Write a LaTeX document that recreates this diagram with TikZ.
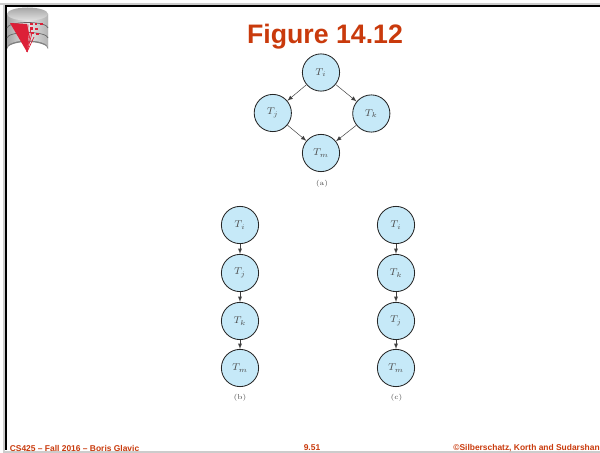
\documentclass[tikz,border=0pt]{standalone}
\usepackage{fontspec}
\setsansfont{Liberation Sans}
\definecolor{titlered}{HTML}{C93A0C}
\definecolor{txnblue}{HTML}{C6E9F8}
\definecolor{logored}{HTML}{DC2038}
\tikzset{
    txn/.style={circle, draw=black!85, fill=txnblue, line width=0.6pt, minimum size=0.93cm, inner sep=0pt, font=\scriptsize\itshape, text=black!70},
    sub/.style={font=\tiny, text=black!70},
    foot/.style={font=\sffamily\bfseries\fontsize{6}{7}\selectfont, text=titlered},
    prec/.style={->, >=latex, black!75, line width=0.35pt}
}
\begin{document}
\begin{tikzpicture}[x=0.025cm, y=-0.025cm]
    \useasboundingbox (0, 0) rectangle (600, 453);
    % slide frame
    \fill[black!20] (4, 451) rectangle (600, 453);
    \fill[black!20] (0, 3.5) rectangle (600, 5);
    \fill[black!20] (2.5, 3.5) rectangle (4.5, 453);
    \fill[black] (4.5, 5) rectangle (600, 7);
    \fill[black] (4.5, 5) rectangle (7, 450);
    % logo
    \fill[black!50] (7, 49) arc[start angle=180, end angle=360, x radius=20.5, y radius=7] -- (48, 14) -- (7, 14) -- cycle;
    \shade[left color=black!35, right color=black!30, middle color=black!10] (7, 14) -- (48, 14) -- (48, 47.5) arc[start angle=360, end angle=180, x radius=20.5, y radius=7] -- cycle;
    \shade[top color=black!35, bottom color=black!12] (27.5, 14) ellipse[x radius=20.5, y radius=6.5];
    \draw[black!60, line width=0.5pt] (7, 28) arc[start angle=180, end angle=360, x radius=20.5, y radius=5.5];
    \draw[black!60, line width=0.5pt] (7, 38) arc[start angle=180, end angle=360, x radius=20.5, y radius=5.5];
    \fill[logored] (10, 23) -- (27, 24) -- (29, 33) -- (27, 52) -- cycle;
    \foreach \x/\y in {28/24.5, 31/28, 32/33, 34/37} {
        \draw[logored, line width=0.5pt] (27, 52) -- (\x, \y);
    }
    \foreach \x/\y in {30/23, 34.5/23, 40/23, 30/27.5, 35/28, 31/32, 36/33} {
        \fill[logored] (\x, \y) rectangle +(2.5, 2.2);
    }
    % title
    \node[font=\sffamily\bfseries\fontsize{19}{22}\selectfont, text=titlered] (title) at (325, 37) {Figure 14.12};
    % (a)
    \draw (321, 72.5) node[txn](ai){$T_i$};
    \draw (272.8, 113) node[txn](aj){$T_j$};
    \draw (371.3, 113.5) node[txn](ak){$T_k$};
    \draw (321, 153) node[txn](am){$T_m$};
    \draw (322, 184) node[sub](la){(a)};
    \draw[prec] (ai) -- (aj);
    \draw[prec] (ai) -- (ak);
    \draw[prec] (aj) -- (am);
    \draw[prec] (ak) -- (am);
    % (b)
    \draw (240, 225) node[txn](bi){$T_i$};
    \draw (240, 273) node[txn](bj){$T_j$};
    \draw (240, 321) node[txn](bk){$T_k$};
    \draw (240, 368) node[txn](bm){$T_m$};
    \draw (240, 398) node[sub](lb){(b)};
    \draw[prec] (bi) -- (bj);
    \draw[prec] (bj) -- (bk);
    \draw[prec] (bk) -- (bm);
    % (c)
    \draw (396, 225) node[txn](ci){$T_i$};
    \draw (396, 273) node[txn](ck){$T_k$};
    \draw (396, 321) node[txn](cj){$T_j$};
    \draw (396, 368) node[txn](cm){$T_m$};
    \draw (396.5, 398) node[sub](lc){(c)};
    \draw[prec] (ci) -- (ck);
    \draw[prec] (ck) -- (cj);
    \draw[prec] (cj) -- (cm);
    % footer
    \node[foot, anchor=west, inner sep=0pt] (course) at (9.5, 448) {CS425 – Fall 2016 – Boris Glavic};
    \node[foot, inner sep=0pt] (page) at (312, 448) {9.51};
    \node[foot, anchor=east, inner sep=0pt] (copy) at (600, 448) {©Silberschatz, Korth and Sudarshan};
\end{tikzpicture}
\end{document}
